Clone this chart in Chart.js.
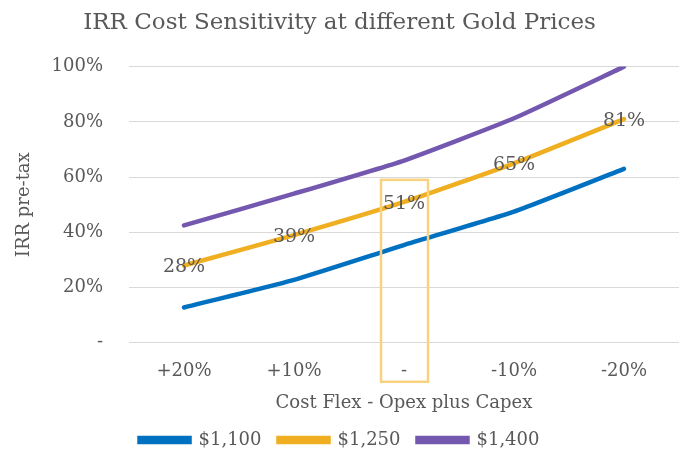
<!DOCTYPE html>
<html lang="en">
<head>
    <meta charset="UTF-8">
    <script src="https://cdn.jsdelivr.net/npm/chart.js@4.4.0/dist/chart.umd.min.js"></script>
    <title>IRR Cost Sensitivity</title>
    <style>
        body {margin: 0; background: #fff;}
        #wrap {width: 683px; height: 459px;}
    </style>
</head>
<body>
    <div id="wrap">
        <canvas id="chart"></canvas>
    </div>

    <script>
    // data
    const costFlex = ['+20%', '+10%', '-', '-10%', '-20%'];
    const irr1100 = [12.8, 22.8, 35.4, 47.5, 63];
    const irr1250 = [28, 39, 51, 65, 81];
    const irr1400 = [42.5, 54, 66, 81.3, 100];
    const yTicks = [0, 20, 40, 60, 80, 100];
    const highlightIndex = 2;   // the "-" column gets the box

    const grey = '#595959';
    const serif = "'DejaVu Serif', serif";

    // labels on the $1,250 line, centred on the points
    const pointLabels = {
        id: 'pointLabels',
        afterDatasetsDraw(chart) {
            const ctx = chart.ctx;
            const meta = chart.getDatasetMeta(1);
            ctx.save();
            ctx.font = '19px ' + serif;
            ctx.fillStyle = grey;
            ctx.textAlign = 'center';
            ctx.textBaseline = 'middle';
            meta.data.forEach((pt, i) => {
                ctx.fillText(Math.round(irr1250[i]) + '%', pt.x, pt.y + 2);
            });
            ctx.restore();
        }
    };

    // outline box around the base case column
    const highlightBox = {
        id: 'highlightBox',
        afterDatasetsDraw(chart) {
            const ctx = chart.ctx;
            const x = chart.scales.x.getPixelForValue(highlightIndex);
            const top = chart.scales.y.getPixelForValue(59);
            const bottom = chart.chartArea.bottom + 39;
            ctx.save();
            ctx.strokeStyle = '#F9D27F';
            ctx.lineWidth = 2.5;
            ctx.strokeRect(x - 23, top, 47, bottom - top);
            ctx.restore();
        }
    };

    function line(label, data, color) {
        return {
            label: label,
            data: data,
            borderColor: color,
            backgroundColor: color,
            borderWidth: 4.5,
            borderCapStyle: 'round',
            pointRadius: 0,
            tension: 0.15
        };
    }

    const ctx = document.getElementById('chart').getContext('2d');
    const myChart = new Chart(ctx, {
        type: 'line',
        data: {
            labels: costFlex,
            datasets: [
                line('$1,100', irr1100, '#0070C0'),
                line('$1,250', irr1250, '#F0AE21'),
                line('$1,400', irr1400, '#7458B0')
            ]
        },
        options: {
            responsive: true,
            maintainAspectRatio: false,
            animation: false,
            layout: {padding: {left: 0, right: 4, top: 4, bottom: 0}},
            plugins: {
                title: {
                    display: true,
                    text: 'IRR Cost Sensitivity at different Gold Prices',
                    color: grey,
                    font: {family: serif, size: 23, weight: 'normal'},
                    padding: {top: 5, bottom: 30}
                },
                legend: {
                    position: 'bottom',
                    labels: {
                        color: grey,
                        font: {family: serif, size: 18},
                        boxWidth: 50,
                        boxHeight: 4,
                        padding: 17
                    }
                },
                tooltip: {enabled: false}
            },
            scales: {
                x: {
                    offset: true,
                    grid: {display: false},
                    border: {display: false},
                    ticks: {color: grey, font: {family: serif, size: 18}, padding: 10},
                    title: {
                        display: true,
                        text: 'Cost Flex - Opex plus Capex',
                        color: grey,
                        font: {family: serif, size: 18},
                        padding: {top: 0, bottom: 0}
                    }
                },
                y: {
                    min: 0,
                    max: 100,
                    afterBuildTicks(scale) {
                        scale.ticks = yTicks.map(v => ({value: v}));
                    },
                    afterFit(scale) {
                        scale.width = 129;
                    },
                    grid: {color: '#D9D9D9', lineWidth: 1, drawTicks: false},
                    border: {display: false},
                    ticks: {
                        color: grey,
                        font: {family: serif, size: 18},
                        padding: 26,
                        callback: v => v === 0 ? '-' : v + '%'
                    },
                    title: {
                        display: true,
                        text: 'IRR pre-tax',
                        color: grey,
                        font: {family: serif, size: 18},
                        padding: {top: 14, bottom: 4}
                    }
                }
            }
        },
        plugins: [highlightBox, pointLabels]
    });
    </script>
</body>
</html>
